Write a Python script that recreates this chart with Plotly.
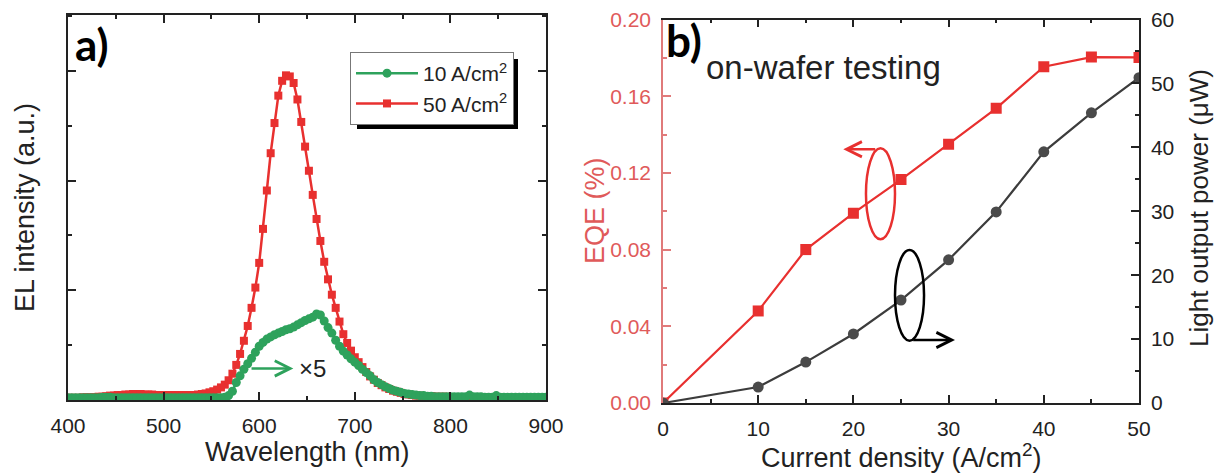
import plotly.graph_objects as go

# ---------------- data: panel a (EL spectra) ----------------
wavelength = list(range(400, 901, 4))  # nm

el_50 = [0.04, 0.04, 0.04, 0.04, 0.05, 0.05, 0.05, 0.05, 0.06, 0.06,   # 400-436
         0.07, 0.08, 0.08, 0.09, 0.09, 0.10, 0.10, 0.11, 0.11, 0.11,   # 440-476
         0.10, 0.10, 0.10, 0.09, 0.09, 0.09, 0.09, 0.09, 0.09, 0.09,   # 480-516
         0.09, 0.09, 0.09, 0.09, 0.10, 0.11, 0.12, 0.14, 0.16, 0.19,   # 520-556
         0.23, 0.28, 0.36, 0.48, 0.64, 0.84, 1.08, 1.35, 1.68, 2.05,   # 560-596
         2.50, 3.12, 3.82, 4.50, 5.05, 5.55, 5.82, 5.92, 5.90, 5.78,   # 600-636
         5.48, 5.07, 4.62, 4.18, 3.74, 3.30, 2.90, 2.52, 2.20, 1.92,   # 640-676
         1.68, 1.43, 1.20, 1.04, 0.90, 0.78, 0.69, 0.60, 0.51, 0.43,   # 680-716
         0.37, 0.31, 0.27, 0.23, 0.20, 0.17, 0.15, 0.13, 0.11, 0.10,   # 720-756
         0.09, 0.08, 0.08, 0.07, 0.07, 0.07, 0.06, 0.06, 0.06, 0.06,   # 760-796
         0.05, 0.05, 0.05, 0.05, 0.05, 0.05, 0.05, 0.05, 0.05, 0.05,   # 800-836
         0.05, 0.05, 0.04, 0.04, 0.04, 0.04, 0.04, 0.04, 0.04, 0.04,   # 840-876
         0.04, 0.04, 0.04, 0.04, 0.04, 0.04]                           # 880-900

el_10_x5 = [0.04, 0.04, 0.04, 0.04, 0.04, 0.04, 0.04, 0.04, 0.04, 0.05,  # 400-436
            0.05, 0.05, 0.04, 0.04, 0.04, 0.04, 0.04, 0.04, 0.04, 0.04,  # 440-476
            0.04, 0.04, 0.04, 0.04, 0.04, 0.04, 0.04, 0.04, 0.04, 0.04,  # 480-516
            0.04, 0.04, 0.04, 0.04, 0.04, 0.04, 0.04, 0.04, 0.04, 0.04,  # 520-556
            0.04, 0.05, 0.08, 0.16, 0.32, 0.44, 0.56, 0.66, 0.76, 0.87,  # 560-596
            0.98, 1.05, 1.11, 1.15, 1.19, 1.22, 1.25, 1.28, 1.30, 1.33,  # 600-636
            1.37, 1.41, 1.45, 1.48, 1.51, 1.57, 1.55, 1.44, 1.32, 1.22,  # 640-676
            1.09, 0.98, 0.89, 0.82, 0.75, 0.69, 0.63, 0.56, 0.50, 0.44,  # 680-716
            0.37, 0.32, 0.28, 0.24, 0.21, 0.18, 0.16, 0.14, 0.12, 0.11,  # 720-756
            0.10, 0.09, 0.08, 0.08, 0.07, 0.07, 0.06, 0.06, 0.06, 0.06,  # 760-796
            0.06, 0.06, 0.06, 0.06, 0.06, 0.09, 0.06, 0.06, 0.06, 0.05,  # 800-836
            0.05, 0.05, 0.08, 0.05, 0.05, 0.05, 0.05, 0.05, 0.05, 0.05,  # 840-876
            0.05, 0.05, 0.05, 0.05, 0.05, 0.05]                          # 880-900

# ---------------- data: panel b (on-wafer testing) ----------------
current_density = [0, 10, 15, 20, 25, 30, 35, 40, 45, 50]          # A/cm^2
eqe_percent = [0.0, 0.048, 0.080, 0.099, 0.1165, 0.135, 0.1537, 0.1754, 0.1804, 0.1802]
light_power_uW = [0.0, 2.5, 6.4, 10.8, 16.1, 22.4, 29.9, 39.3, 45.4, 50.9]

x_ticks_a = [400, 500, 600, 700, 800, 900]
x_ticks_b = [0, 10, 20, 30, 40, 50]

RED = "#e8302f"
GREEN = "#2ea25c"
DARK = "#3c3c3c"
EQE_RED = "#e05a5a"
FONT = "Liberation Sans, Arial, sans-serif"

W, H = 1220, 473
def px(x):
    return x / W
def py(y):
    return 1 - y / H

fig = go.Figure()

# panel a traces (red under green)
fig.add_trace(go.Scatter(
    x=wavelength, y=el_50, mode="lines+markers", name="50 A/cm<sup>2</sup>",
    line=dict(color=RED, width=2.5), marker=dict(symbol="square", size=8, color=RED),
    xaxis="x", yaxis="y", legendrank=2))
fig.add_trace(go.Scatter(
    x=wavelength, y=el_10_x5, mode="lines+markers", name="10 A/cm<sup>2</sup>",
    line=dict(color=GREEN, width=2.5), marker=dict(symbol="circle", size=9, color=GREEN),
    xaxis="x", yaxis="y", legendrank=1))

# panel b traces
fig.add_trace(go.Scatter(
    x=current_density, y=eqe_percent, mode="lines+markers", showlegend=False,
    line=dict(color=RED, width=2.2), marker=dict(symbol="square", size=11, color=RED),
    xaxis="x2", yaxis="y2"))
fig.add_trace(go.Scatter(
    x=current_density, y=light_power_uW, mode="lines+markers", showlegend=False,
    line=dict(color=DARK, width=2.2), marker=dict(symbol="circle", size=11, color="#4a4a4a"),
    xaxis="x2", yaxis="y3"))

tickfont = dict(family=FONT, size=21, color="#222")
common = dict(showgrid=False, zeroline=False, showline=True, linewidth=1.5,
              ticks="inside", tickwidth=1.5, ticklen=8, automargin=False)

fig.update_layout(
    width=W, height=H, margin=dict(l=0, r=0, t=0, b=0, autoexpand=False),
    paper_bgcolor="white", plot_bgcolor="rgba(0,0,0,0)",
    font=dict(family=FONT, color="#222"),
    xaxis=dict(domain=[px(68), px(546)], range=[400, 900], anchor="y",
               tickmode="array", tickvals=x_ticks_a, tickfont=tickfont,
               linecolor="#222", tickcolor="#222", mirror="ticks",
               minor=dict(ticks="inside", dtick=50, tick0=400, ticklen=4, tickwidth=1.5, tickcolor="#222"),
               ticklabelstandoff=6, **common),
    yaxis=dict(domain=[py(400), py(15)], range=[0, 7.02], anchor="x",
               tickmode="linear", tick0=0, dtick=2, showticklabels=False,
               linecolor="#222", tickcolor="#222", mirror="ticks",
               minor=dict(ticks="inside", dtick=1, tick0=0, ticklen=4, tickwidth=1.5, tickcolor="#222"),
               **common),
    xaxis2=dict(domain=[px(663), px(1139)], range=[0, 50], anchor="y2",
                tickmode="array", tickvals=x_ticks_b, tickfont=tickfont,
                linecolor="#222", tickcolor="#222", mirror="ticks",
                minor=dict(ticks="inside", dtick=5, tick0=0, ticklen=4, tickwidth=1.5, tickcolor="#222"),
                ticklabelstandoff=6, **common),
    yaxis2=dict(domain=[py(403), py(19.5)], range=[0, 0.2], anchor="x2",
                tickmode="linear", tick0=0, dtick=0.04, tickformat=".2f",
                tickfont=dict(family=FONT, size=21, color=EQE_RED),
                linecolor="#e07a7a", tickcolor="#e07a7a",
                minor=dict(ticks="inside", dtick=0.02, tick0=0, ticklen=4, tickwidth=1.5, tickcolor="#e07a7a"),
                ticklabelstandoff=6, **common),
    yaxis3=dict(overlaying="y2", side="right", range=[0, 60], anchor="x2",
                tickmode="linear", tick0=0, dtick=10, tickfont=tickfont,
                linecolor="#222", tickcolor="#222",
                minor=dict(ticks="inside", dtick=5, tick0=0, ticklen=4, tickwidth=1.5, tickcolor="#222"),
                ticklabelstandoff=6, **common),
    legend=dict(x=px(350), y=py(52), xanchor="left", yanchor="top",
                bgcolor="white", bordercolor="#777", borderwidth=1,
                font=dict(family=FONT, size=21, color="#222"), itemwidth=62,
                tracegroupgap=0),
)

# legend shadow
fig.add_shape(type="rect", xref="paper", yref="paper",
              x0=px(357), x1=px(518), y0=py(129), y1=py(59),
              fillcolor="black", line=dict(width=0), layer="above")

# ellipses
fig.add_shape(type="circle", xref="x2", yref="y2", x0=21.32, x1=24.37, y0=0.0854, y1=0.1328,
              line=dict(color=RED, width=2.5))
fig.add_shape(type="circle", xref="x2", yref="y3", x0=24.37, x1=27.42, y0=9.75, y1=23.94,
              line=dict(color="black", width=2.5))

annotations = [
    # arrows
    dict(x=18.94, y=0.1323, ax=22.45, ay=0.1323, xref="x2", yref="y2", axref="x2", ayref="y2",
         showarrow=True, arrowhead=5, arrowsize=1.2, arrowwidth=2.5, arrowcolor=RED, text=""),
    dict(x=30.67, y=9.86, ax=26.12, ay=9.86, xref="x2", yref="y3", axref="x2", ayref="y3",
         showarrow=True, arrowhead=5, arrowsize=1.2, arrowwidth=2.5, arrowcolor="black", text=""),
    dict(x=635.7, y=0.576, ax=590.4, ay=0.576, xref="x", yref="y", axref="x", ayref="y",
         showarrow=True, arrowhead=5, arrowsize=1.2, arrowwidth=2.5, arrowcolor=GREEN, text=""),
    dict(x=640, y=0.576, xref="x", yref="y", text="×5", showarrow=False, xanchor="left",
         font=dict(family=FONT, size=24, color="#222")),
    # panel labels
    dict(x=px(73), y=py(44), xref="paper", yref="paper", text="<b>a)</b>", showarrow=False,
         xanchor="left", yanchor="middle", font=dict(family="Lato, Open Sans, sans-serif", size=44, color="black")),
    dict(x=px(664), y=py(40), xref="paper", yref="paper", text="<b>b)</b>", showarrow=False,
         xanchor="left", yanchor="middle", font=dict(family="Lato, Open Sans, sans-serif", size=44, color="black")),
    dict(x=px(704), y=py(68), xref="paper", yref="paper", text="on-wafer testing", showarrow=False,
         xanchor="left", yanchor="middle", font=dict(family=FONT, size=33, color="#222")),
    # axis titles
    dict(x=px(307), y=py(452), xref="paper", yref="paper", text="Wavelength (nm)", showarrow=False,
         xanchor="center", yanchor="middle", font=dict(family=FONT, size=27, color="#222")),
    dict(x=px(25), y=py(208), xref="paper", yref="paper", text="EL intensity (a.u.)", showarrow=False,
         textangle=-90, xanchor="center", yanchor="middle", font=dict(family=FONT, size=27, color="#222")),
    dict(x=px(901), y=py(456), xref="paper", yref="paper", text="Current density (A/cm<sup>2</sup>)",
         showarrow=False, xanchor="center", yanchor="middle", font=dict(family=FONT, size=27, color="#222")),
    dict(x=px(595), y=py(211), xref="paper", yref="paper", text="EQE (%)", showarrow=False,
         textangle=-90, xanchor="center", yanchor="middle", font=dict(family=FONT, size=27, color=EQE_RED)),
    dict(x=px(1199), y=py(208), xref="paper", yref="paper", text="Light output power (μW)", showarrow=False,
         textangle=-90, xanchor="center", yanchor="middle", font=dict(family=FONT, size=26, color="#222")),
]
fig.update_layout(annotations=annotations)

fig.write_html("out.html", config={"displayModeBar": False},
               post_script="document.body.style.margin='0';document.body.style.overflow='hidden';")
